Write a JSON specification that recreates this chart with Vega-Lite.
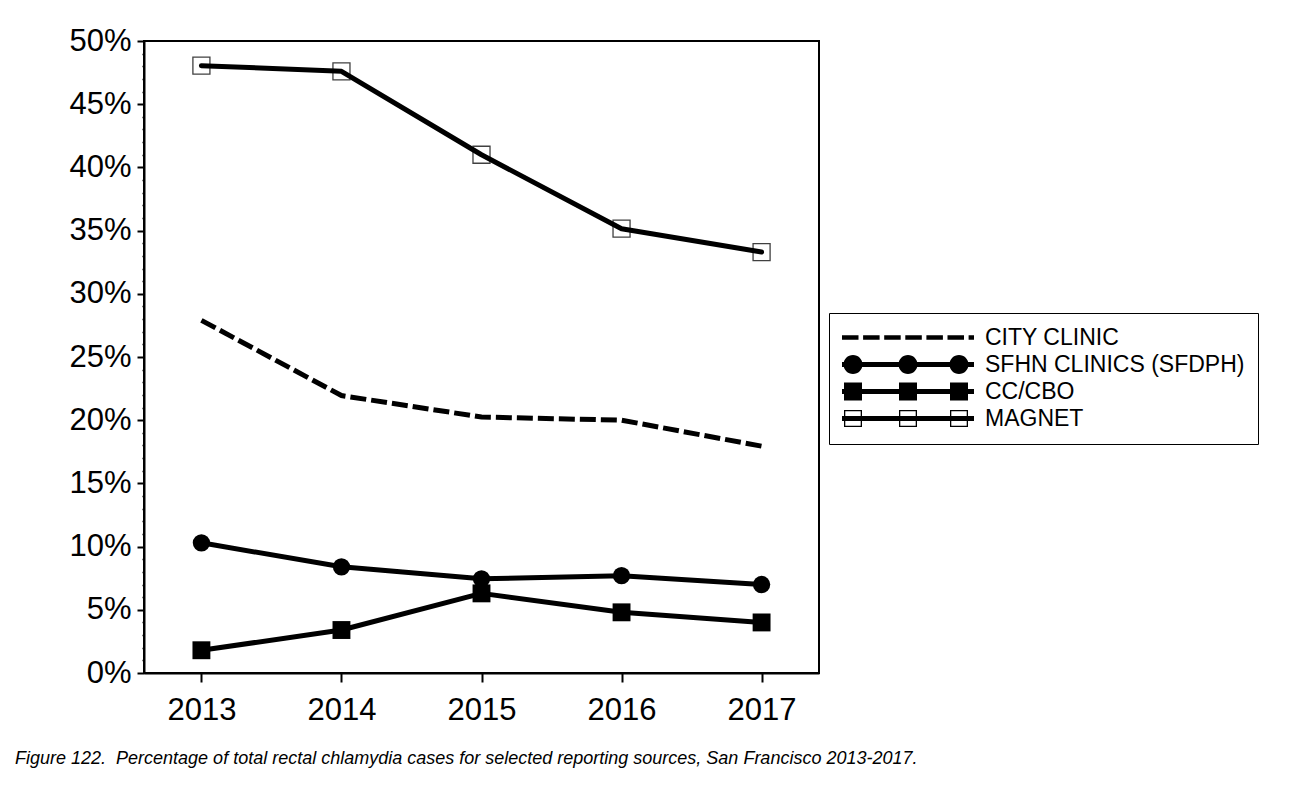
{
  "$schema": "https://vega.github.io/schema/vega-lite/v6.json",
  "width": 675,
  "height": 632,
  "autosize": {"type": "none"},
  "padding": {"left": 144, "top": 41, "right": 493, "bottom": 114},
  "background": "white",
  "config": {
    "view": {"stroke": "black", "strokeWidth": 2},
    "font": "Liberation Sans",
    "axis": {"grid": false, "domainColor": "black", "domainWidth": 2, "tickColor": "black", "tickWidth": 2, "labelColor": "black", "labelFont": "Liberation Sans", "title": null},
    "legend": {"orient": "none", "legendX": 685, "legendY": 272, "labelFont": "Liberation Sans", "labelFontSize": 23, "labelColor": "black", "labelOffset": 120, "labelLimit": 500, "padding": 13, "rowPadding": 3, "strokeColor": "black", "symbolSize": 4, "symbolStrokeWidth": 0}
  },
  "title": {
    "text": "Figure 122.\u00a0 Percentage of total rectal chlamydia cases for selected reporting sources, San Francisco 2013-2017.",
    "orient": "bottom",
    "anchor": "start",
    "frame": "group",
    "dx": -129,
    "offset": 25,
    "font": "Liberation Sans",
    "fontSize": 18,
    "fontStyle": "italic",
    "fontWeight": "normal",
    "color": "black"
  },
  "data": {
    "values": [
      {"year": "2013", "series": "CITY CLINIC", "value": 27.9},
      {"year": "2014", "series": "CITY CLINIC", "value": 21.95},
      {"year": "2015", "series": "CITY CLINIC", "value": 20.25},
      {"year": "2016", "series": "CITY CLINIC", "value": 20.0},
      {"year": "2017", "series": "CITY CLINIC", "value": 17.95},
      {"year": "2013", "series": "SFHN CLINICS (SFDPH)", "value": 10.3},
      {"year": "2014", "series": "SFHN CLINICS (SFDPH)", "value": 8.4},
      {"year": "2015", "series": "SFHN CLINICS (SFDPH)", "value": 7.45},
      {"year": "2016", "series": "SFHN CLINICS (SFDPH)", "value": 7.7},
      {"year": "2017", "series": "SFHN CLINICS (SFDPH)", "value": 7.0},
      {"year": "2013", "series": "CC/CBO", "value": 1.8},
      {"year": "2014", "series": "CC/CBO", "value": 3.4},
      {"year": "2015", "series": "CC/CBO", "value": 6.3},
      {"year": "2016", "series": "CC/CBO", "value": 4.8},
      {"year": "2017", "series": "CC/CBO", "value": 4.0},
      {"year": "2013", "series": "MAGNET", "value": 48.05},
      {"year": "2014", "series": "MAGNET", "value": 47.6},
      {"year": "2015", "series": "MAGNET", "value": 41.0},
      {"year": "2016", "series": "MAGNET", "value": 35.15},
      {"year": "2017", "series": "MAGNET", "value": 33.3}
    ]
  },
  "encoding": {
    "x": {
      "field": "year",
      "type": "ordinal",
      "scale": {"type": "point", "padding": 0.41},
      "axis": {"labelAngle": 0, "labelFontSize": 31, "tickSize": 9, "labelPadding": 13, "title": null}
    },
    "y": {
      "field": "value",
      "type": "quantitative",
      "scale": {"domain": [0, 50], "nice": false},
      "axis": {
        "values": [0,1,2,3,4,5,6,7,8,9,10,11,12,13,14,15,16,17,18,19,20,21,22,23,24,25,26,27,28,29,30,31,32,33,34,35,36,37,38,39,40,41,42,43,44,45,46,47,48,49,50],
        "labelExpr": "datum.value % 5 === 0 ? datum.value + '%' : ''",
        "labelFontSize": 31,
        "labelPadding": 6,
        "labelOverlap": false,
        "tickSize": {"condition": {"test": "datum.value % 5 === 0", "value": 7}, "value": 2},
        "tickWidth": {"condition": {"test": "datum.value % 5 === 0", "value": 2}, "value": 1.5},
        "title": null
      }
    }
  },
  "layer": [
    {
      "mark": {"type": "point", "filled": true, "opacity": 0, "size": 4, "color": "black"},
      "encoding": {
        "shape": {
          "field": "series",
          "type": "nominal",
          "scale": {
            "domain": ["CITY CLINIC", "SFHN CLINICS (SFDPH)", "CC/CBO", "MAGNET"],
            "range": [
              "M-11.5,-2.3H5V2.3H-11.5Z M9.6,-2.3H26.1V2.3H9.6Z M30.7,-2.3H47.2V2.3H30.7Z M51.8,-2.3H68.3V2.3H51.8Z M72.9,-2.3H89.4V2.3H72.9Z M94,-2.3H110.5V2.3H94Z M115.1,-2.3H120.5V2.3H115.1Z",
              "M-11.5,-2.5H120.5V2.5H-11.5Z M-10,0A9.5,9.5 0 1,1 9,0A9.5,9.5 0 1,1 -10,0Z M45,0A9.5,9.5 0 1,1 64,0A9.5,9.5 0 1,1 45,0Z M96,0A9.5,9.5 0 1,1 115,0A9.5,9.5 0 1,1 96,0Z",
              "M-11.5,-2.5H120.5V2.5H-11.5Z M-9.5,-9H8.5V9H-9.5Z M45.5,-9H63.5V9H45.5Z M96.5,-9H114.5V9H96.5Z",
              "M-11.5,-2.5H120.5V2.5H-11.5Z M-9.5,-8.5H8.5V8.5H-9.5Z M-8.2,-7.2V7.2H7.2V-7.2Z M45.5,-8.5H63.5V8.5H45.5Z M46.8,-7.2V7.2H62.2V-7.2Z M96.5,-8.5H114.5V8.5H96.5Z M97.8,-7.2V7.2H113.2V-7.2Z"
            ]
          },
          "legend": {
            "title": null,
            "encode": {
              "symbols": {"update": {"fill": {"value": "black"}, "stroke": {"value": "transparent"}, "strokeWidth": {"value": 0}, "opacity": {"value": 1}, "size": {"value": 4}}},
              "legend": {"update": {"stroke": {"value": "black"}, "strokeWidth": {"value": 2}}}
            }
          }
        }
      }
    },
    {
      "transform": [{"filter": "datum.series === 'SFHN CLINICS (SFDPH)'"}],
      "mark": {"type": "point", "shape": "circle", "filled": true, "color": "black", "opacity": 1, "size": 300}
    },
    {
      "transform": [{"filter": "datum.series === 'CC/CBO'"}],
      "mark": {"type": "point", "shape": "square", "filled": true, "color": "black", "opacity": 1, "size": 320}
    },
    {
      "transform": [{"filter": "datum.series === 'MAGNET'"}],
      "mark": {"type": "point", "shape": "square", "filled": true, "fill": "white", "stroke": "#404040", "strokeWidth": 1.3, "opacity": 1, "size": 290}
    },
    {
      "transform": [{"filter": "datum.series === 'CITY CLINIC'"}],
      "mark": {"type": "line", "color": "black", "strokeWidth": 5, "strokeDash": [16, 5], "strokeCap": "butt"}
    },
    {
      "transform": [{"filter": "datum.series !== 'CITY CLINIC'"}],
      "mark": {"type": "line", "color": "black", "strokeWidth": 5, "strokeCap": "round", "strokeJoin": "round"},
      "encoding": {"detail": {"field": "series", "type": "nominal"}}
    }
  ]
}
